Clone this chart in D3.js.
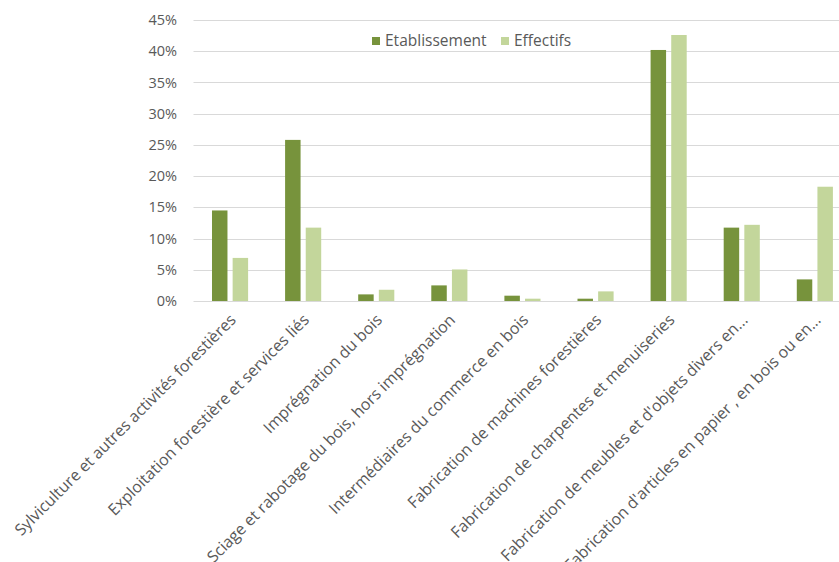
<!DOCTYPE html>
<html><head><meta charset="utf-8">
<script src="https://cdn.jsdelivr.net/npm/d3@7"></script>
<style>body{margin:0;background:#fff}svg{display:block}text{font-family:"Open Sans",sans-serif;fill:#595959}</style>
</head><body>
<svg id="c" width="839" height="562"></svg>
<script>
const categories = ["Sylviculture et autres activités forestières","Exploitation forestière et services liés","Imprégnation du bois","Sciage et rabotage du bois, hors imprégnation","Intermédiaires du commerce en bois","Fabrication de machines forestières","Fabrication de charpentes et menuiseries","Fabrication de meubles et d'objets divers en...","Fabrication d'articles en papier , en bois ou en..."];
const seriesNames = ["Etablissement","Effectifs"];
const etablissement = [14.5, 25.8, 1.06, 2.5, 0.85, 0.37, 40.2, 11.75, 3.46];
const effectifs = [6.9, 11.75, 1.8, 5.05, 0.37, 1.54, 42.6, 12.2, 18.3];
const yTicks = [0,5,10,15,20,25,30,35,40,45];
const colors = ["#77933C","#C3D69B"];

const svg = d3.select("#c");
const left = 193.5, step = 73.1, right = left + step*categories.length;
const y = d3.scaleLinear().domain([0,45]).range([301,20]);
const x = d3.scaleBand().domain(categories).range([left,right]).paddingInner(0.506).paddingOuter(0.253);
const xs = d3.scaleBand().domain(seriesNames).range([0,x.bandwidth()]).paddingInner(0.25);

// grid
svg.append("g").selectAll("line").data(yTicks).join("line")
  .attr("x1",left).attr("x2",right).attr("y1",d=>Math.round(y(d))+0.5).attr("y2",d=>Math.round(y(d))+0.5)
  .attr("stroke","#d9d9d9").attr("stroke-width",1);
svg.append("g").selectAll("text").data(yTicks).join("text")
  .attr("x",177).attr("y",d=>y(d)).attr("dy","0.35em").attr("text-anchor","end")
  .attr("font-size",14.5).text(d=>d+"%");

const series = [etablissement, effectifs];
series.forEach((vals,si)=>{
  svg.append("g").selectAll("rect").data(vals).join("rect")
    .attr("x",(d,i)=>x(categories[i])+xs(seriesNames[si]))
    .attr("width",xs.bandwidth())
    .attr("y",d=>y(d)).attr("height",d=>y(0)-y(d))
    .attr("fill",colors[si]);
});

// x labels
svg.append("g").selectAll("text").data(categories).join("text")
  .attr("transform",d=>`translate(${x(d)+x.bandwidth()/2+3},${317}) rotate(-45)`)
  .attr("text-anchor","end").attr("dy","0.35em").attr("font-size",16).text(d=>d);

// legend
const lg = svg.append("g");
const lx = [372, 501];
seriesNames.forEach((n,i)=>{
  lg.append("rect").attr("x",lx[i]).attr("y",37).attr("width",8).attr("height",8).attr("fill",colors[i]);
  lg.append("text").attr("x",lx[i]+13).attr("y",41).attr("dy","0.35em").attr("font-size",15.5).text(n);
});
</script>
</body></html>
